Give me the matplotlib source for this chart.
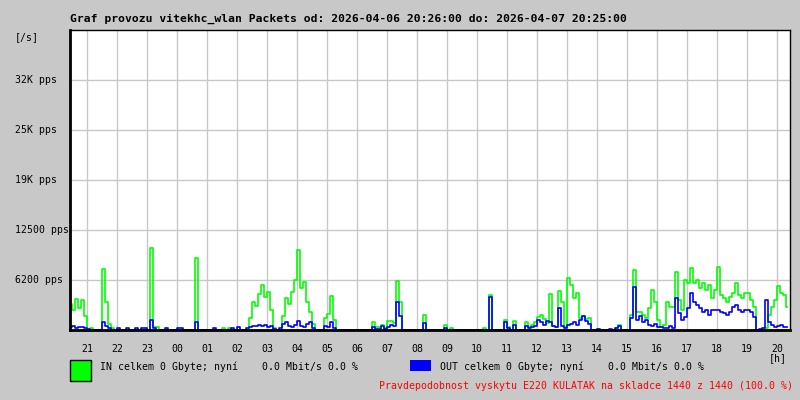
import matplotlib
matplotlib.use('Agg')
import matplotlib.pyplot as plt
from matplotlib.patches import Rectangle
import numpy as np

plt.rcParams['font.family'] = ['DejaVu Sans Mono']

# one value per 6 minutes, starting 2026-04-06 20:26
in_pps = [
    3250, 2500, 3875, 2750, 3750, 1750, 0, 250, 0, 0,
    0, 7625, 3500, 750, 250, 0, 0, 0, 0, 0,
    0, 0, 0, 0, 0, 0, 0, 10250, 375, 375,
    0, 0, 0, 0, 0, 0, 0, 0, 0, 0,
    0, 0, 9000, 0, 0, 0, 0, 0, 0, 0,
    0, 250, 0, 250, 0, 0, 0, 0, 0, 0,
    1500, 3500, 3000, 4500, 5625, 4125, 4750, 2500, 250, 0,
    0, 1750, 4000, 3250, 4750, 6250, 10000, 5250, 6000, 3500,
    2250, 750, 0, 0, 0, 1500, 2000, 4250, 1250, 0,
    0, 0, 0, 0, 0, 0, 0, 0, 0, 0,
    0, 1000, 375, 375, 625, 250, 1125, 1125, 875, 6125,
    3500, 0, 0, 0, 0, 0, 0, 0, 1875, 0,
    0, 0, 0, 0, 0, 625, 0, 250, 0, 0,
    0, 0, 0, 0, 0, 0, 0, 0, 250, 0,
    4375, 0, 0, 0, 0, 1250, 375, 0, 1125, 0,
    0, 0, 1000, 375, 625, 1000, 1625, 1875, 1375, 875,
    4500, 500, 375, 4875, 3500, 375, 6500, 5625, 4000, 4625,
    1500, 1750, 1375, 1500, 0, 0, 125, 0, 0, 0,
    0, 0, 250, 625, 0, 0, 0, 1875, 7500, 2250,
    2250, 1875, 1500, 2750, 5000, 3500, 1250, 375, 625, 3500,
    2875, 2875, 7250, 3750, 2500, 6250, 5875, 7750, 5875, 6250,
    5250, 5875, 5000, 5625, 4000, 5000, 7875, 4375, 4000, 3500,
    4125, 4625, 5875, 4375, 4000, 4625, 4625, 3750, 2875, 0,
    0, 0, 250, 1875, 2875, 3750, 5500, 4625, 4375, 2875,
]
out_pps = [
    375, 500, 250, 375, 375, 250, 125, 0, 0, 0,
    0, 1000, 500, 250, 0, 0, 250, 0, 0, 250,
    0, 0, 250, 0, 250, 250, 0, 1250, 250, 0,
    0, 0, 250, 0, 0, 0, 250, 250, 0, 0,
    0, 0, 1000, 0, 0, 0, 0, 0, 250, 0,
    0, 0, 0, 0, 250, 0, 375, 0, 0, 250,
    375, 500, 500, 625, 500, 625, 375, 500, 125, 0,
    250, 750, 1000, 500, 375, 625, 1125, 500, 375, 750,
    1000, 250, 0, 0, 0, 500, 375, 1000, 250, 0,
    0, 0, 0, 0, 0, 0, 0, 0, 0, 0,
    0, 375, 125, 125, 500, 125, 375, 625, 500, 3500,
    1750, 0, 0, 0, 0, 0, 0, 0, 875, 0,
    0, 0, 0, 0, 0, 250, 0, 0, 0, 0,
    0, 0, 0, 0, 0, 0, 0, 0, 0, 0,
    4125, 0, 0, 0, 0, 1000, 250, 0, 625, 0,
    0, 0, 500, 250, 375, 500, 1250, 1000, 625, 1125,
    1000, 500, 375, 2750, 500, 250, 625, 750, 1000, 625,
    1250, 1750, 1125, 750, 0, 0, 125, 0, 0, 0,
    125, 0, 250, 500, 0, 0, 0, 1500, 5375, 1250,
    1750, 1000, 1250, 625, 500, 750, 375, 375, 250, 250,
    500, 250, 4000, 2125, 1250, 1625, 2750, 4625, 3500, 3125,
    2750, 2250, 2500, 1875, 2500, 2500, 2500, 2250, 2125, 1875,
    2250, 2875, 3125, 2500, 2250, 2500, 2500, 2250, 1625, 0,
    125, 250, 3750, 1000, 625, 375, 500, 625, 375, 375,
]

hour_labels = ['21', '22', '23', '00', '01', '02', '03', '04', '05', '06', '07', '08',
               '09', '10', '11', '12', '13', '14', '15', '16', '17', '18', '19', '20']
y_ticks = [6250, 12500, 18750, 25000, 31250]
y_labels = ['6200 pps', '12500 pps', '19K pps', '25K pps', '32K pps']

title = 'Graf provozu vitekhc_wlan Packets od: 2026-04-06 20:26:00 do: 2026-04-07 20:25:00'
in_text = 'IN celkem 0 Gbyte; nyní    0.0 Mbit/s 0.0 %'
out_text = 'OUT celkem 0 Gbyte; nyní    0.0 Mbit/s 0.0 %'
note_text = 'Pravdepodobnost vyskytu E220 KULATAK na skladce 1440 z 1440 (100.0 %)'

bg = '#c8c8c8'
W, H = 800, 400
fs = 7.1


def fx(px):
    return px / W


def fy(py):
    return 1 - py / H


fig = plt.figure(figsize=(8, 4), dpi=100, facecolor=bg)
ax = fig.add_axes([fx(70), fy(330), 720 / W, 300 / H])
ax.set_facecolor('white')

minutes = np.arange(len(in_pps)) * 6
ax.plot(minutes, in_pps, color='#00ff00', lw=1.2, drawstyle='steps-mid', zorder=3)
ax.plot(minutes, out_pps, color='#0000ff', lw=1.2, drawstyle='steps-mid', zorder=4)

ax.set_xlim(0, 1440)
ax.set_ylim(0, 37500)

hour_pos = [34 + 60 * k for k in range(24)]
ax.set_xticks(hour_pos)
ax.set_xticklabels(hour_labels, fontsize=fs)
ax.set_yticks(y_ticks)
ax.set_yticklabels([])
ax.tick_params(length=0, pad=10)
ax.grid(True, color='#c8c8c8', lw=1, zorder=1)
ax.set_axisbelow(True)

for side in ['left', 'bottom']:
    ax.spines[side].set_linewidth(2)
    ax.spines[side].set_zorder(5)
for side in ['top', 'right']:
    ax.spines[side].set_linewidth(1)

# y labels left aligned in the margin
for v, lab in zip(y_ticks, y_labels):
    py = 330 - v / 37500 * 300
    fig.text(fx(15), fy(py), lab, fontsize=fs, ha='left', va='center')
fig.text(fx(15), fy(37), '[/s]', fontsize=fs, ha='left', va='center')
fig.text(fx(778), fy(358), '[h]', fontsize=fs, ha='center', va='center')

fig.text(fx(70), fy(19), title, fontsize=8.2, fontweight='bold', ha='left', va='center')

# legend
fig.patches.append(Rectangle((fx(70), fy(381)), 21 / W, 21 / H, transform=fig.transFigure,
                             facecolor='#00ff00', edgecolor='black', lw=1))
fig.text(fx(100), fy(367), in_text, fontsize=fs, ha='left', va='center')
fig.patches.append(Rectangle((fx(410), fy(371)), 21 / W, 11 / H, transform=fig.transFigure,
                             facecolor='#0000ff', edgecolor='none'))
fig.text(fx(440), fy(367), out_text, fontsize=fs, ha='left', va='center')
fig.text(fx(379), fy(386), note_text, fontsize=fs, color='#ff0000', ha='left', va='center')

fig.savefig('out.png', dpi=100, facecolor=bg)
